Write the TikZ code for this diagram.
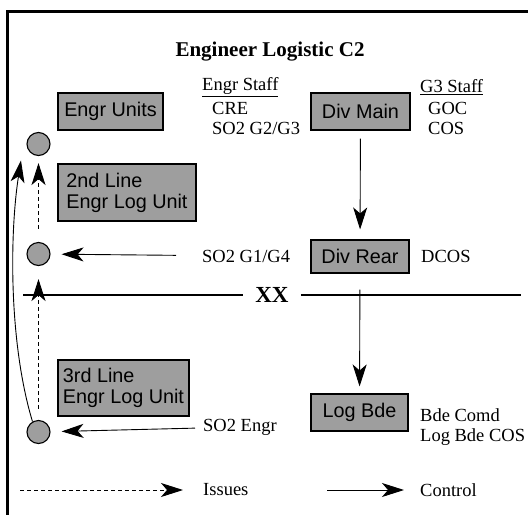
\documentclass[tikz,border=0pt]{standalone}
\usepackage{fontspec}
\setmainfont{Liberation Serif}
\setsansfont{Liberation Sans}
\usetikzlibrary{arrows.meta}
\definecolor{boxgray}{RGB}{158,158,158}

\begin{document}
\begin{tikzpicture}[x=1pt,y=-1pt,
  unit/.style={draw,line width=1.1pt,fill=boxgray,inner sep=0pt,font=\sffamily\fontsize{19.8}{21}\selectfont},
  post/.style={draw,line width=1.1pt,fill=boxgray,circle,minimum size=23pt,inner sep=0pt},
  lbl/.style={anchor=west,inner sep=0pt,font=\fontsize{18.5}{21}\selectfont},
  ctrl/.style={-{Stealth[length=22pt,width=14pt,inset=6pt]},line width=0.9pt},
  issue/.style={ctrl,dash pattern=on 4pt off 3pt}]
  \useasboundingbox (0,0) rectangle (528,515);

  % frame, only top and left edges show
  \draw[line width=3pt] (528,11.5) -| (7.5,515);

  \node[font=\bfseries\fontsize{21}{24}\selectfont] (title) at (270,52) {Engineer Logistic C2};

  % units on the left
  \node[unit,minimum width=105pt,minimum height=37pt] (eunits) at (110.5,111.5) {Engr Units};
  \node[unit,align=left,minimum width=138pt,minimum height=57pt] (line2) at (127,192.5) {2nd Line\\Engr Log Unit};
  \node[unit,align=left,minimum width=131pt,minimum height=56pt] (line3) at (123.5,388) {3rd Line\\Engr Log Unit};

  \node[post] (c1) at (38.5,144) {};
  \node[post] (c2) at (38.5,254) {};
  \node[post] (c3) at (38.5,432) {};

  % HQs
  \node[unit,minimum width=99pt,minimum height=37pt] (divmain) at (360.5,111.5) {Div Main};
  \node[unit,minimum width=98pt,minimum height=33pt] (divrear) at (360,256.5) {Div Rear};
  \node[unit,minimum width=97pt,minimum height=37pt] (logbde) at (359.5,412.5) {Log Bde};

  % staff labels
  \node[lbl] (estaff) at (202,87) {\underline{Engr Staff}};
  \node[lbl] (cre) at (212,108) {CRE};
  \node[lbl] (so2a) at (212,128) {SO2 G2/G3};
  \node[lbl] (gstaff) at (420,87) {\underline{G3 Staff}};
  \node[lbl] (goc) at (428,108) {GOC};
  \node[lbl] (cos) at (428,128) {COS};
  \node[lbl] (so2b) at (202,256) {SO2 G1/G4};
  \node[lbl] (dcos) at (421,256) {DCOS};
  \node[lbl] (so2c) at (203,427) {SO2 Engr};
  \node[lbl] (comd) at (420,415) {Bde Comd};
  \node[lbl] (lcos) at (420,437) {Log Bde COS};

  % divisional boundary
  \node[font=\bfseries\fontsize{23}{26}\selectfont,inner xsep=12pt] (xx) at (272,295) {XX};
  \coordinate (xl) at (23,295);
  \coordinate (xr) at (521,295);
  \draw[line width=1.1pt] (xl) -- (xx);
  \draw[line width=1.1pt] (xx) -- (xr);

  % control
  \draw[ctrl,shorten <=8pt,shorten >=10pt] (divmain) -- (divrear);
  \draw[ctrl,shorten <=16pt,shorten >=7pt] (divrear) -- (logbde);
  \draw[ctrl,shorten <=26pt,shorten >=11pt] (so2b) -- (c2);
  \draw[ctrl,shorten <=8pt,shorten >=11pt] (so2c) -- (c3);
  \draw[ctrl] (c3.120) .. controls (8,340) and (10,230) .. ([xshift=-9pt,yshift=-8pt]c1.south west);

  % issues
  \draw[issue,shorten <=11pt,shorten >=13pt] (c3) -- (c2);
  \draw[issue,shorten <=13pt,shorten >=7pt] (c2) -- (c1);

  % key
  \coordinate (isst) at (20,490);
  \node[lbl] (iss) at (203,490) {Issues};
  \draw[issue,shorten >=20pt] (isst) -- (iss);
  \coordinate (ctst) at (327,490);
  \node[lbl] (con) at (420,490) {Control};
  \draw[ctrl,shorten >=16pt] (ctst) -- (con);
\end{tikzpicture}
\end{document}
